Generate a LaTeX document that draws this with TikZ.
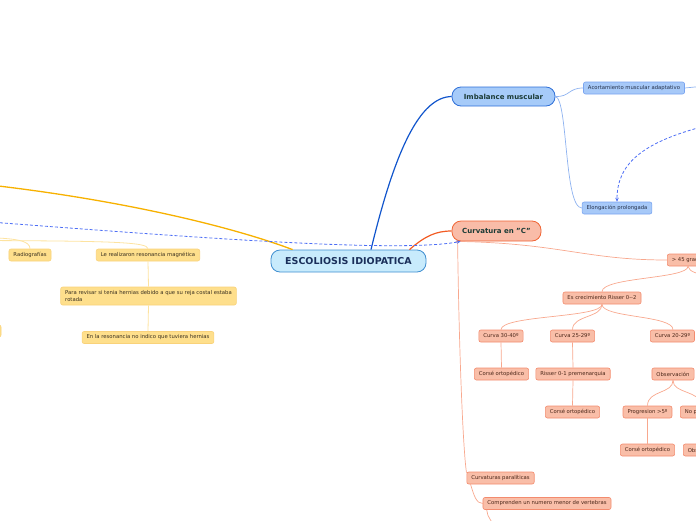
\documentclass[tikz,border=0pt]{standalone}
\usepackage{fontspec}
\setmainfont{DejaVu Sans}
\usetikzlibrary{arrows.meta}
\definecolor{yfill}{HTML}{FEDF8C}
\definecolor{ydraw}{HTML}{F9D27A}
\definecolor{ytext}{HTML}{3A3020}
\definecolor{yedge}{HTML}{FDE3A0}
\definecolor{sfill}{HTML}{F9BEA8}
\definecolor{sdraw}{HTML}{F38B6E}
\definecolor{stext}{HTML}{4A2618}
\definecolor{sedge}{HTML}{F8A88E}
\definecolor{bfill}{HTML}{A7C9F8}
\definecolor{bdraw}{HTML}{79A4F0}
\definecolor{btext}{HTML}{24304A}
\definecolor{bedge}{HTML}{8DB2F0}
\definecolor{cfill}{HTML}{C8EBFC}
\definecolor{cdraw}{HTML}{3F8ED0}
\definecolor{ctext}{HTML}{1A2F5A}
\definecolor{mtext}{HTML}{1B3B36}
\definecolor{blueedge}{HTML}{1155CC}
\definecolor{redge}{HTML}{F25C24}
\definecolor{oedge}{HTML}{F7B100}
\definecolor{dashblue}{HTML}{4D6EF5}
\definecolor{ifill}{HTML}{A6CBF9}
\definecolor{idraw}{HTML}{2E6FD8}
\definecolor{kfill}{HTML}{F9BCA8}
\definecolor{kdraw}{HTML}{F06434}
\tikzset{
  base/.style={font=\fontsize{5.3}{6.6}\selectfont, rounded corners=2, inner xsep=4.5, inner ysep=0, minimum height=12, line width=0.6},
  ybox/.style={base, fill=yfill, draw=ydraw, text=ytext},
  sbox/.style={base, fill=sfill, draw=sdraw, text=stext},
  bbox/.style={base, fill=bfill, draw=bdraw, text=btext},
  yline/.style={draw=yedge, line width=0.8},
  sline/.style={draw=sedge, line width=0.7},
  bline/.style={draw=bedge, line width=0.7},
  rel/.style={draw=dashblue, line width=0.8, dash pattern=on 3pt off 2pt, -{Stealth[length=4pt,width=3.5pt]}},
}
\begin{document}
\begin{tikzpicture}[x=1pt,y=-1pt]
\clip (0,0) rectangle (696,520);
\useasboundingbox (0,0) rectangle (696,520);

% central and main topics
\node[fill=cfill, draw=cdraw, line width=0.8, rounded corners=9, minimum width=155, minimum height=22, inner sep=0,
      font=\bfseries\fontsize{9.5}{11}\selectfont, text=ctext] (C) at (348.5,261) {ESCOLIOSIS IDIOPATICA};
\node[fill=ifill, draw=idraw, line width=0.8, rounded corners=9, minimum width=103, minimum height=19, inner sep=0,
      font=\bfseries\fontsize{7}{8}\selectfont, text=mtext] (I) at (503.5,96.5) {Imbalance muscular};
\node[fill=kfill, draw=kdraw, line width=0.8, rounded corners=9, minimum width=89, minimum height=20, inner sep=0,
      font=\bfseries\fontsize{7}{8}\selectfont, text=mtext] (K) at (496.5,231) {Curvatura en "C"};

% blue subtopics
\node[bbox] (A) at (634,88) {Acortamiento muscular adaptativo};
\node[bbox] (E) at (617,208) {Elongación prolongada};
\coordinate (AR) at (705,86);
\coordinate (RS) at (705,126);

% yellow subtopics
\coordinate (Y1) at (-20,237.5);
\coordinate (Y2) at (-20,240.5);
\node[ybox] (R) at (30,255) {Radiografías};
\node[ybox] (LR) at (148,255) {Le realizaron resonancia magnética};
\node[ybox, minimum height=18, align=left] (PR) at (148.5,296) {Para revisar si tenia hernias debido a que su reja costal estaba\\rotada};
\node[ybox] (EN) at (148,337.5) {En la resonancia no indico que tuviera hernias};
\node[ybox, minimum width=60] (YL) at (-29,331) {};
\coordinate (OL) at (-10,185);
\coordinate (DL) at (-10,222);

% salmon subtopics
\node[sbox, anchor=west] (G) at (667,260) {> 45 grados};
\coordinate (GR) at (710,276);
\node[sbox] (ES) at (602,298) {Es crecimiento Risser 0-{}-2};
\node[sbox] (C30) at (501,336) {Curva 30-40º};
\node[sbox] (C25) at (572.5,336) {Curva 25-29º};
\node[sbox, anchor=west] (C20) at (650,336) {Curva 20-29º};
\node[sbox] (CO1) at (501.5,374) {Corsé ortopédico};
\node[sbox] (RI) at (573,374) {Risser 0-1 premenarquia};
\node[sbox] (CO2) at (572.5,412) {Corsé ortopédico};
\node[sbox] (OB) at (673,374) {Observación};
\node[sbox] (PG) at (647.5,412) {Progresion >5º};
\node[sbox, anchor=west] (NP) at (680,412) {No progresión};
\node[sbox] (CO3) at (647.5,450) {Corsé ortopédico};
\node[sbox, anchor=west] (OB2) at (683,450) {Observación};
\node[sbox] (CP) at (500.5,478) {Curvaturas paralíticas};
\node[sbox] (CM) at (547,503.5) {Comprenden un numero menor de vertebras};
\coordinate (CD) at (494,526);

% main branches
\draw[draw=blueedge, line width=1.2] ([xshift=22.5]C.north) .. controls (395,150) and (420,97) .. (I.west);
\draw[draw=redge, line width=1.2] ([xshift=61]C.north) .. controls (425,236) and (436,231) .. (K.west);
\draw[draw=oedge, line width=1.3] (OL) .. controls (120,200) and (230,226) .. ([xshift=22]C.north west);

% blue branches
\draw[bline] (I.east) .. controls (570,97) and (568,88) .. (A.west);
\draw[bline] (I.east) .. controls (568,99) and (564,208) .. (E.west);
\draw[bline] (A.east) -- (AR);

% yellow branches
\draw[yline] (Y1) .. controls (18,238) and (30,241) .. (R.north);
\draw[yline] (Y2) .. controls (110,241) and (148,242) .. (LR.north);
\draw[yline] (LR.south) -- (PR.north);
\draw[yline] (PR.south) -- (EN.north);

% salmon branches
\draw[sline] ([xshift=4]K.south west) .. controls (560,243) and (585,260) .. (G.west);
\draw[sline] ([xshift=6]K.south west) .. controls (459,350) and (463,450) .. ([yshift=-1]CP.north west);
\draw[sline] ([xshift=4]CP.south west) .. controls (474,495) and (476,503.5) .. (CM.west);
\draw[sline] ([xshift=4]CM.south west) .. controls (487,514) .. (CD);
\draw[sline] ([xshift=21]G.south west) .. controls (688,279) and (602,277) .. (ES.north);
\draw[sline] ([xshift=21]G.south west) .. controls (689,272) and (698,274) .. (GR);
\draw[sline] (ES.south) .. controls (602,318) and (501,315) .. (C30.north);
\draw[sline] (ES.south) .. controls (602,318) and (572.5,315) .. (C25.north);
\draw[sline] (ES.south) .. controls (602,318) and (673,315) .. ([xshift=23]C20.north west);
\draw[sline] (C30.south) -- (CO1.north);
\draw[sline] (C25.south) -- (RI.north);
\draw[sline] (RI.south) -- (CO2.north);
\draw[sline] (OB.south) .. controls (673,394) and (647.5,390) .. (PG.north);
\draw[sline] (OB.south) .. controls (673,394) and (700,390) .. ([xshift=22]NP.north west);
\draw[sline] (PG.south) -- (CO3.north);

% relationships
\draw[rel] (DL) .. controls (200,238) and (400,253) .. ([xshift=9]K.south west);
\draw[rel] (RS) .. controls (640,143) and (617,165) .. (E.north);
\end{tikzpicture}
\end{document}
